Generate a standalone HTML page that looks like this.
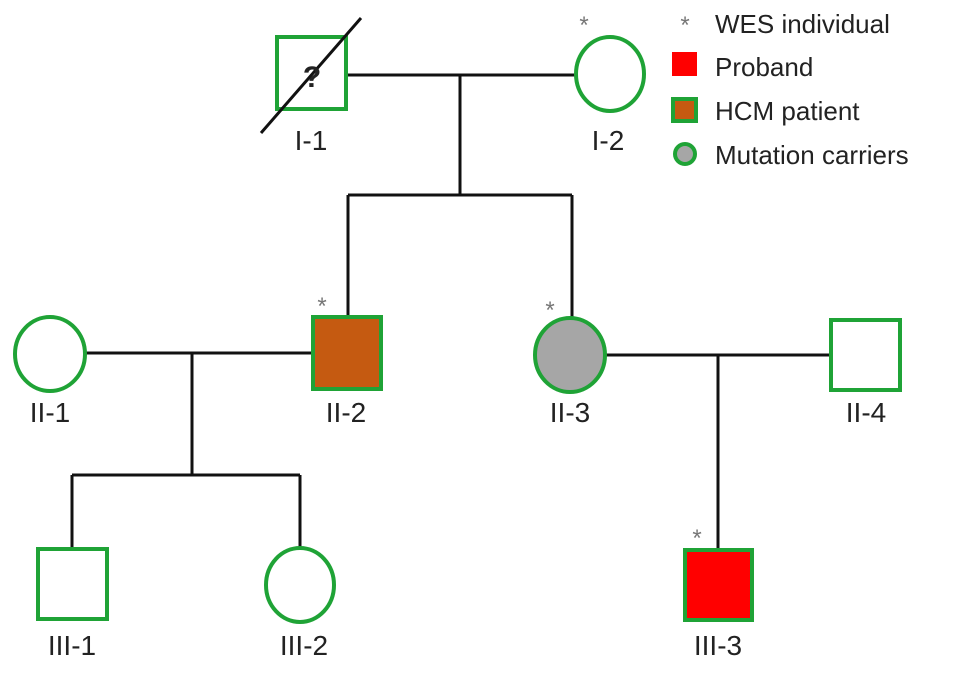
<!DOCTYPE html>
<html><head><style>
html,body{margin:0;padding:0;background:#fff;}
svg{display:block;}
text{font-family:"Liberation Sans",sans-serif;fill:#222;}
</style></head><body>
<svg width="969" height="674" viewBox="0 0 969 674" xmlns="http://www.w3.org/2000/svg">
<g stroke="#111" stroke-width="3" fill="none">
<line x1="347" y1="75" x2="575" y2="75"/>
<line x1="460" y1="75" x2="460" y2="195"/>
<line x1="348" y1="195" x2="572" y2="195"/>
<line x1="348" y1="195" x2="348" y2="316"/>
<line x1="572" y1="195" x2="572" y2="318"/>
<line x1="86" y1="353" x2="312" y2="353"/>
<line x1="192" y1="353" x2="192" y2="475"/>
<line x1="72" y1="475" x2="300" y2="475"/>
<line x1="72" y1="475" x2="72" y2="550"/>
<line x1="300" y1="475" x2="300" y2="550"/>
<line x1="606" y1="355" x2="830" y2="355"/>
<line x1="718" y1="355" x2="718" y2="550"/>
</g>
<g stroke="#1fa336" stroke-width="4">
<rect x="277" y="37" width="69" height="72" fill="#fff"/>
<ellipse cx="610" cy="74" rx="34" ry="37" fill="#fff"/>
<ellipse cx="50" cy="354" rx="35" ry="37" fill="#fff"/>
<rect x="313" y="317" width="68" height="72" fill="#c55a11"/>
<ellipse cx="570" cy="355" rx="35" ry="37" fill="#a6a6a6"/>
<rect x="831" y="320" width="69" height="70" fill="#fff"/>
<rect x="38" y="549" width="69" height="70" fill="#fff"/>
<ellipse cx="300" cy="585" rx="34" ry="37" fill="#fff"/>
<rect x="685" y="550" width="67" height="70" fill="#ff0000"/>
</g>
<line x1="261" y1="133" x2="361" y2="18" stroke="#111" stroke-width="3"/>
<text x="312" y="87" font-size="30" font-weight="bold" text-anchor="middle">?</text>
<g font-size="28" text-anchor="middle">
<text x="311" y="150">I-1</text>
<text x="608" y="150">I-2</text>
<text x="50" y="422">II-1</text>
<text x="346" y="422">II-2</text>
<text x="570" y="422">II-3</text>
<text x="866" y="422">II-4</text>
<text x="72" y="655">III-1</text>
<text x="304" y="655">III-2</text>
<text x="718" y="655">III-3</text>
</g>
<g font-size="24" text-anchor="middle">
<text x="584" y="33" style="fill:#777">*</text>
<text x="322" y="314" style="fill:#777">*</text>
<text x="550" y="318" style="fill:#777">*</text>
<text x="697" y="546" style="fill:#777">*</text>
<text x="685" y="33" style="fill:#777">*</text>
</g>
<rect x="672" y="52" width="25" height="24" fill="#ff0000"/>
<rect x="673" y="99" width="23" height="22" fill="#c55a11" stroke="#1fa336" stroke-width="4"/>
<circle cx="685" cy="154" r="10" fill="#a6a6a6" stroke="#1fa336" stroke-width="4"/>
<g font-size="26">
<text x="715" y="33">WES individual</text>
<text x="715" y="76">Proband</text>
<text x="715" y="120">HCM patient</text>
<text x="715" y="164">Mutation carriers</text>
</g>
</svg>
</body></html>
